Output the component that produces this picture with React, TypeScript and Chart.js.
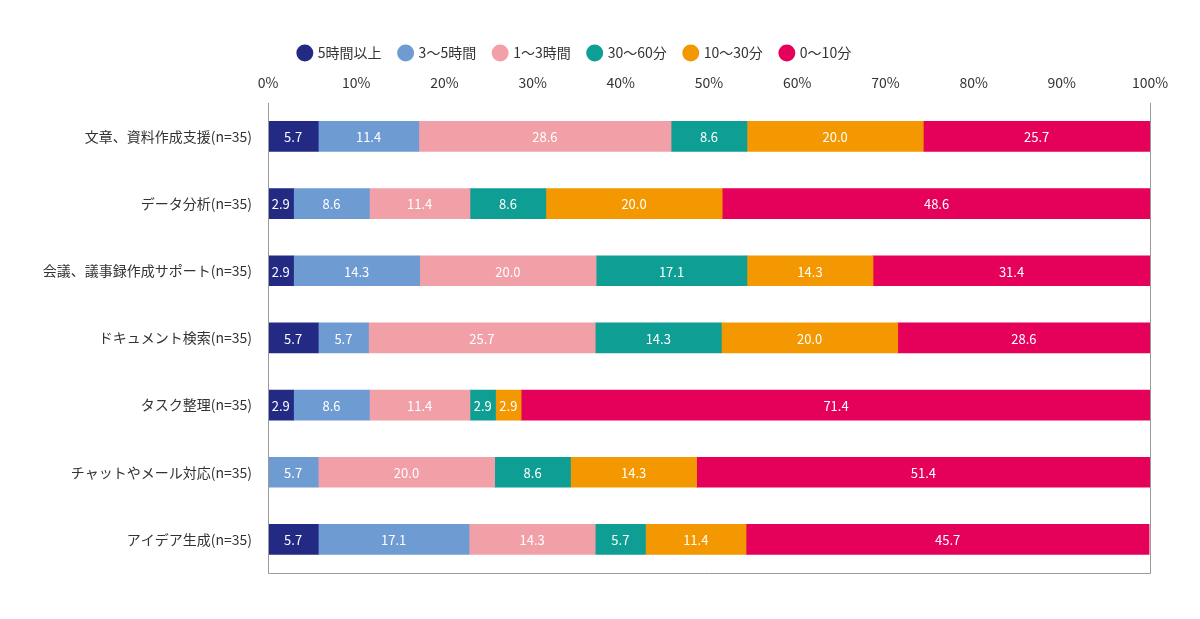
import React, { useEffect, useRef } from "react";
import { Chart, registerables } from "chart.js";
Chart.register(...registerables);

const categories = ["文章、資料作成支援(n=35)", "データ分析(n=35)", "会議、議事録作成サポート(n=35)", "ドキュメント検索(n=35)", "タスク整理(n=35)", "チャットやメール対応(n=35)", "アイデア生成(n=35)"];
const seriesNames = ["5時間以上", "3〜5時間", "1〜3時間", "30〜60分", "10〜30分", "0〜10分"];
const colors = ["#232a84", "#6f9bd3", "#f2a0a8", "#0f9e94", "#f39800", "#e5005a"];
const s1 = [5.7, 2.9, 2.9, 5.7, 2.9, 0, 5.7];
const s2 = [11.4, 8.6, 14.3, 5.7, 8.6, 5.7, 17.1];
const s3 = [28.6, 11.4, 20.0, 25.7, 11.4, 20.0, 14.3];
const s4 = [8.6, 8.6, 17.1, 14.3, 2.9, 8.6, 5.7];
const s5 = [20.0, 20.0, 14.3, 20.0, 2.9, 14.3, 11.4];
const s6 = [25.7, 48.6, 31.4, 28.6, 71.4, 51.4, 45.7];
const series = [s1, s2, s3, s4, s5, s6];

const FONT = "'Noto Sans CJK JP', 'Noto Sans', sans-serif";

const labelPlugin = {
  id: "labels",
  afterDatasetsDraw(chart: any) {
    const ctx = chart.ctx;
    ctx.save();
    ctx.fillStyle = "#fff";
    ctx.font = `13px ${FONT}`;
    ctx.textAlign = "center";
    ctx.textBaseline = "middle";
    chart.data.datasets.forEach((ds: any, i: number) => {
      chart.getDatasetMeta(i).data.forEach((bar: any, j: number) => {
        const v = ds.data[j];
        if (!v) return;
        const x = (bar.x + bar.base) / 2;
        ctx.fillText(v.toFixed(1), x, bar.y + 1);
      });
    });
    const a = chart.chartArea;
    ctx.strokeStyle = "#9a9a9a";
    ctx.lineWidth = 1;
    ctx.beginPath();
    ctx.moveTo(a.left + 0.5, a.top);
    ctx.lineTo(a.left + 0.5, a.bottom + 0.5);
    ctx.lineTo(a.right + 0.5, a.bottom + 0.5);
    ctx.lineTo(a.right + 0.5, a.top);
    ctx.stroke();
    ctx.restore();
  },
};

export default function App() {
  const ref = useRef<HTMLCanvasElement>(null);
  useEffect(() => {
    document.body.style.margin = "0";
    const chart = new Chart(ref.current!, {
      type: "bar",
      data: {
        labels: categories,
        datasets: series.map((d, i) => ({
          label: seriesNames[i],
          data: d,
          backgroundColor: colors[i],
          borderWidth: 0,
          barThickness: 30,
        })),
      },
      options: {
        indexAxis: "y",
        animation: false,
        responsive: false,
        layout: { padding: { left: 0, right: 50, top: 28, bottom: 46 } },
        scales: {
          x: {
            position: "top",
            stacked: true,
            min: 0,
            max: 100,
            ticks: { stepSize: 10, callback: (v: any) => v + "%", color: "#333", font: { size: 14, family: FONT }, padding: 4 },
            grid: { display: false },
            border: { display: false },
          },
          y: {
            stacked: true,
            ticks: { color: "#333", font: { size: 14, family: FONT }, padding: 8 },
            grid: { display: false },
            border: { display: false },
            afterFit: (s: any) => { s.width = 268; },
          },
        },
        plugins: {
          legend: {
            labels: { usePointStyle: true, pointStyle: "circle", boxWidth: 12, boxHeight: 12, color: "#333", font: { size: 14, family: FONT }, padding: 18 },
          },
          tooltip: { enabled: false },
        },
      },
      plugins: [labelPlugin],
    } as any);
    return () => chart.destroy();
  }, []);
  return <canvas ref={ref} width={1200} height={619} style={{ display: "block" }} />;
}
